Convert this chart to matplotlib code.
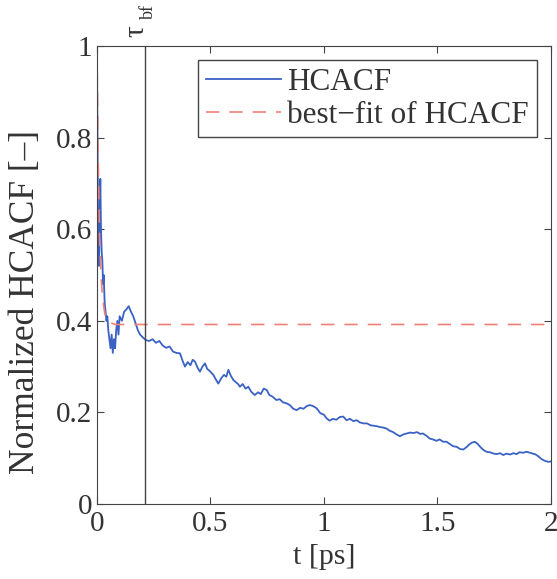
import numpy as np
import matplotlib.pyplot as plt

plt.rcParams['font.family'] = ['Liberation Serif', 'DejaVu Serif']

# HCACF
t_hcacf = [0, 0.003, 0.006, 0.009, 0.012, 0.015, 0.018, 0.021, 0.024, 0.027,
           0.030, 0.034, 0.038, 0.042, 0.046, 0.050, 0.055, 0.060, 0.065, 0.070,
           0.075, 0.080, 0.085, 0.090, 0.095, 0.100, 0.110, 0.120, 0.130, 0.140,
           0.150, 0.160, 0.170, 0.180, 0.190,
           0.200, 0.215, 0.230, 0.245, 0.260, 0.275, 0.290, 0.305, 0.320, 0.335,
           0.350, 0.366, 0.378, 0.388, 0.400, 0.412, 0.422, 0.432, 0.443, 0.454,
           0.465, 0.476, 0.486, 0.498, 0.513, 0.524, 0.535, 0.548, 0.560, 0.570,
           0.579, 0.590, 0.601, 0.612, 0.622, 0.630, 0.642, 0.655, 0.667, 0.680,
           0.696, 0.710, 0.722, 0.735, 0.748, 0.760, 0.772, 0.791, 0.805, 0.820,
           0.835, 0.850, 0.865, 0.880, 0.895, 0.910, 0.925, 0.938, 0.952, 0.968,
           0.985, 1.000, 1.012, 1.025, 1.040, 1.055, 1.070, 1.085, 1.100, 1.115,
           1.130, 1.145, 1.159, 1.175, 1.190, 1.205, 1.220, 1.232, 1.248, 1.261,
           1.275, 1.290, 1.305, 1.320, 1.335, 1.350, 1.365, 1.379, 1.395, 1.410,
           1.425, 1.437, 1.452, 1.466, 1.481, 1.496, 1.510, 1.525, 1.540, 1.555,
           1.570, 1.585, 1.600, 1.614, 1.628, 1.640, 1.652, 1.665, 1.678, 1.690,
           1.703, 1.717, 1.732, 1.748, 1.762, 1.776, 1.790, 1.805, 1.820, 1.835,
           1.849, 1.862, 1.878, 1.893, 1.908, 1.920, 1.930, 1.945, 1.959, 1.975,
           1.990, 2.000]
v_hcacf = [1.00, 0.78, 0.55, 0.52, 0.62, 0.71, 0.60, 0.55, 0.53, 0.48,
           0.50, 0.44, 0.42, 0.40, 0.41, 0.38, 0.36, 0.34, 0.37, 0.33,
           0.36, 0.34, 0.38, 0.40, 0.37, 0.41, 0.40, 0.42, 0.425, 0.432,
           0.42, 0.41, 0.395, 0.38, 0.37,
           0.365, 0.358, 0.356, 0.360, 0.352, 0.356, 0.346, 0.341, 0.344, 0.333,
           0.330, 0.329, 0.312, 0.300, 0.310, 0.303, 0.315, 0.311, 0.298, 0.289,
           0.300, 0.307, 0.295, 0.290, 0.282, 0.272, 0.263, 0.275, 0.282, 0.278,
           0.293, 0.280, 0.271, 0.266, 0.262, 0.256, 0.262, 0.252, 0.256, 0.245,
           0.238, 0.244, 0.240, 0.252, 0.249, 0.238, 0.235, 0.227, 0.229, 0.222,
           0.220, 0.216, 0.208, 0.205, 0.210, 0.208, 0.214, 0.216, 0.214, 0.209,
           0.198, 0.195, 0.187, 0.182, 0.186, 0.184, 0.190, 0.191, 0.183, 0.186,
           0.181, 0.183, 0.178, 0.176, 0.176, 0.172, 0.171, 0.170, 0.168, 0.167,
           0.165, 0.160, 0.157, 0.152, 0.148, 0.152, 0.154, 0.156, 0.155, 0.157,
           0.153, 0.154, 0.149, 0.143, 0.141, 0.138, 0.141, 0.136, 0.136, 0.131,
           0.126, 0.125, 0.120, 0.119, 0.124, 0.130, 0.134, 0.136, 0.131, 0.124,
           0.118, 0.114, 0.113, 0.110, 0.109, 0.111, 0.107, 0.110, 0.108, 0.111,
           0.109, 0.113, 0.112, 0.114, 0.112, 0.110, 0.109, 0.104, 0.098, 0.094,
           0.092, 0.093]

# best-fit curve
t_fit = [0, 0.004, 0.008, 0.012, 0.018, 0.025, 0.035, 0.05, 0.08, 2.0]
v_fit = [1.0, 0.82, 0.68, 0.58, 0.50, 0.45, 0.415, 0.398, 0.392, 0.392]

tau_bf = 0.21

grey = '#444444'
txtc = '#333333'
fig = plt.figure(figsize=(5.57, 5.79), dpi=100)
ax = fig.add_axes([0.174, 0.1295, 0.815, 0.791])

ax.plot(t_hcacf, v_hcacf, color='#3a62c4', lw=1.3, label='HCACF')
ax.plot(t_fit, v_fit, color='#f08078', lw=1.2, ls=(0, (8, 6)), label='best\u2212fit of HCACF')
ax.axvline(tau_bf, color=grey, lw=1)
# tau_bf label, turned to read upwards
ax.text(tau_bf - 0.035, 1.02, '\u03c4', rotation=90, ha='center', va='bottom',
        fontsize=21, color=txtc)
ax.text(tau_bf + 0.018, 1.06, 'bf', rotation=90, ha='center', va='bottom',
        fontsize=13, color=txtc)

ax.set_xlim(0, 2)
ax.set_ylim(0, 1)
ax.set_xticks([0, 0.5, 1, 1.5, 2])
ax.set_xticklabels(['0', '0.5', '1', '1.5', '2'])
ax.set_yticks([0, 0.2, 0.4, 0.6, 0.8, 1])
ax.set_yticklabels(['0', '0.2', '0.4', '0.6', '0.8', '1'])
ax.tick_params(direction='in', top=True, right=True, labelsize=21,
               colors=grey, labelcolor=txtc, length=5)
ax.tick_params(axis='x', pad=5)
for s in ax.spines.values():
    s.set_color(grey)
ax.set_xlabel('t [ps]', fontsize=21.5, color=txtc, labelpad=5)
ax.set_ylabel('Normalized HCACF [\u2013]', fontsize=25.5, color=txtc)
ax.yaxis.set_label_coords(-0.122, 0.441)

leg = ax.legend(loc='upper right', fontsize=22.5, handlelength=2.4, handletextpad=0.2,
                borderpad=0.25, labelspacing=0.12, fancybox=False, framealpha=1,
                borderaxespad=0.45)
leg.get_frame().set_edgecolor(grey)
for txt in leg.get_texts():
    txt.set_color(txtc)

fig.savefig('out.png', dpi=100)
